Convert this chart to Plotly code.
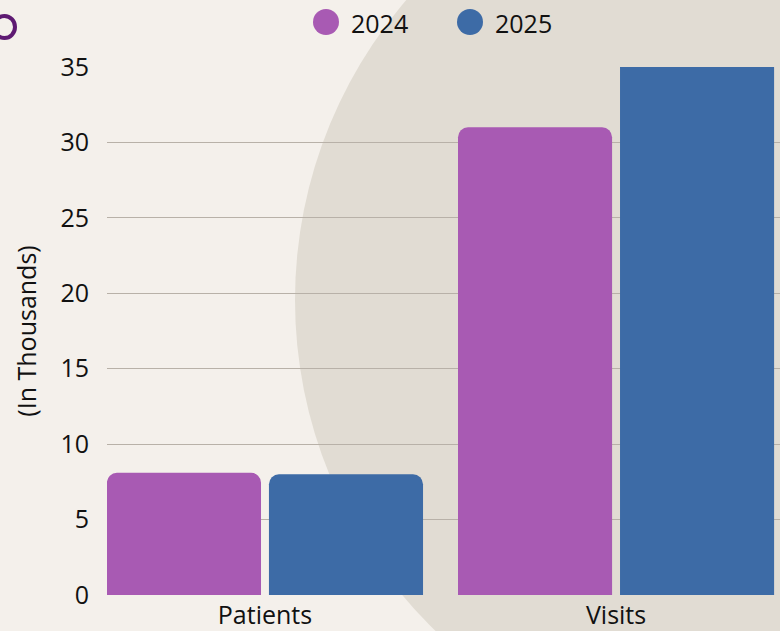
import plotly.graph_objects as go

categories = ["Patients", "Visits"]
series_names = ["2024", "2025"]
values_2024 = [8.1, 31.0]
values_2025 = [8.0, 35.6]
y_ticks = [0, 5, 10, 15, 20, 25, 30, 35]
colors = ["#a85ab3", "#3d6ba6"]

W, H = 780, 631
ML, MR, MT, MB = 107, 0, 67, 36
PW, PH = W - ML - MR, H - MT - MB

def px_x(p):
    return (p - ML) / PW

def px_y(p):
    return (H - MB - p) / PH

FONT = "Open Sans"
FS = 25

fig = go.Figure()
for name, vals, col in zip(series_names, [values_2024, values_2025], colors):
    fig.add_trace(go.Bar(x=categories, y=vals, name=name, marker_color=col,
                         marker_line_width=0, showlegend=False))

shapes = [
    dict(type="circle", xref="paper", yref="paper", layer="below",
         x0=px_x(755 - 460), x1=px_x(755 + 460), y0=px_y(300 + 460), y1=px_y(300 - 460),
         fillcolor="#e1dcd3", line_width=0),
    dict(type="circle", xref="paper", yref="paper", layer="above",
         x0=px_x(-6), x1=px_x(15), y0=px_y(38), y1=px_y(16),
         fillcolor="rgba(0,0,0,0)", line=dict(color="#5e1a72", width=4)),
]
annotations = []
leg_x = [326, 470]
for name, col, cx in zip(series_names, colors, leg_x):
    shapes.append(dict(type="circle", xref="paper", yref="paper",
                       x0=px_x(cx - 13), x1=px_x(cx + 13), y0=px_y(22 + 13), y1=px_y(22 - 13),
                       fillcolor=col, line_width=0))
    annotations.append(dict(text=name, xref="paper", yref="paper", x=px_x(cx + 23), y=px_y(23),
                            xanchor="left", yanchor="middle", showarrow=False,
                            font=dict(family=FONT, size=FS, color="#111111")))

fig.update_layout(
    width=W, height=H,
    margin=dict(l=ML, r=MR, t=MT, b=MB, autoexpand=False),
    paper_bgcolor="#f4f0eb",
    plot_bgcolor="rgba(0,0,0,0)",
    barmode="group", bargap=0.077, bargroupgap=0.049,
    barcornerradius=10,
    font=dict(family=FONT, size=FS, color="#111111"),
    shapes=shapes, annotations=annotations,
    xaxis=dict(range=[-0.45, 1.467], showgrid=False, zeroline=False, showline=False,
               ticks="", tickfont=dict(size=FS), ticklabelstandoff=3, automargin=False),
    yaxis=dict(range=[0, 35], tickvals=y_ticks, showgrid=True, gridcolor="#b8b1a8", gridwidth=1,
               zeroline=False, showline=False, ticks="", tickfont=dict(size=FS),
               ticklabelstandoff=17, automargin=False,
               title=dict(text="(In Thousands)", font=dict(size=FS), standoff=16)),
)

fig.write_html("out.html", config={"displayModeBar": False},
               post_script="document.body.style.margin='0';")
